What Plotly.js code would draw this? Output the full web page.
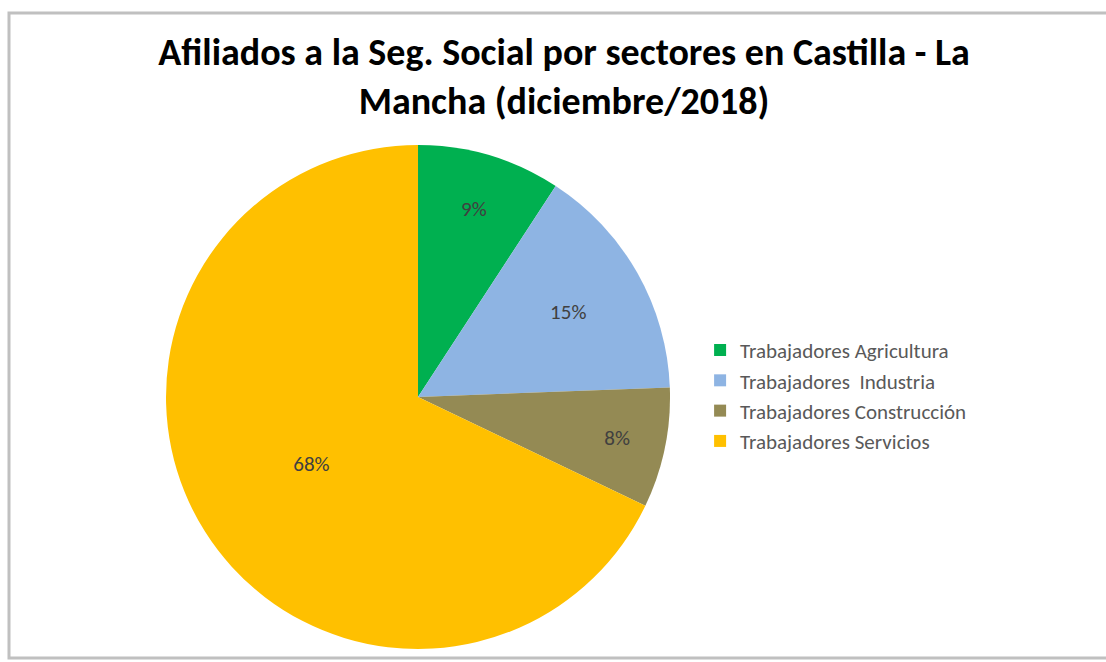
<!DOCTYPE html>
<html>
<head>
<meta charset="utf-8">
<script src="https://cdn.plot.ly/plotly-3.0.1.min.js"></script>
<style>html,body{margin:0;padding:0;background:#fff;}#chart{width:1106px;height:662px;}</style>
</head>
<body>
<div id="chart"></div>
<script>
const categories = ["Trabajadores Agricultura", "Trabajadores  Industria", "Trabajadores Construcción", "Trabajadores Servicios"];
const values = [9.2, 15.2, 7.7, 67.9];
const colors = ["#00B050", "#8EB4E3", "#948A54", "#FFC000"];

const font = "Carlito, 'Liberation Sans Narrow', 'Open Sans', sans-serif";

const data = [{
  type: "pie",
  labels: categories,
  values: values,
  sort: false,
  direction: "clockwise",
  rotation: 0,
  marker: {colors: colors, line: {width: 0}},
  textinfo: "percent",
  texttemplate: "%{percent:.0%}",
  textposition: "inside",
  insidetextorientation: "horizontal",
  textfont: {family: font, size: 21, color: "#404040"},
  hoverinfo: "label+percent",
  domain: {x: [0.1501, 0.6058], y: [0.0196, 0.781]}
}];

const layout = {
  width: 1106, height: 662,
  margin: {l: 0, r: 0, t: 0, b: 0},
  paper_bgcolor: "#ffffff",
  font: {family: font},
  title: {
    text: "Afiliados a la Seg. Social por sectores en Castilla - La<br>Mancha (diciembre/2018)",
    font: {family: font, size: 38, color: "#000000", weight: "bold"},
    x: 0.51, xanchor: "center",
    y: 0.902, yanchor: "top"
  },
  showlegend: true,
  legend: {
    x: 0.633, xanchor: "left",
    y: 0.402, yanchor: "middle",
    font: {family: font, size: 21, color: "#595959"},
    itemwidth: 30,
    bgcolor: "rgba(0,0,0,0)"
  },
  shapes: [{
    type: "rect", xref: "paper", yref: "paper",
    x0: 9/1106, x1: 1.01, y0: 4/662, y1: 1 - 13/662,
    line: {color: "#c0c0c0", width: 3}
  }]
};

Plotly.newPlot("chart", data, layout, {displayModeBar: false});
</script>
</body>
</html>
